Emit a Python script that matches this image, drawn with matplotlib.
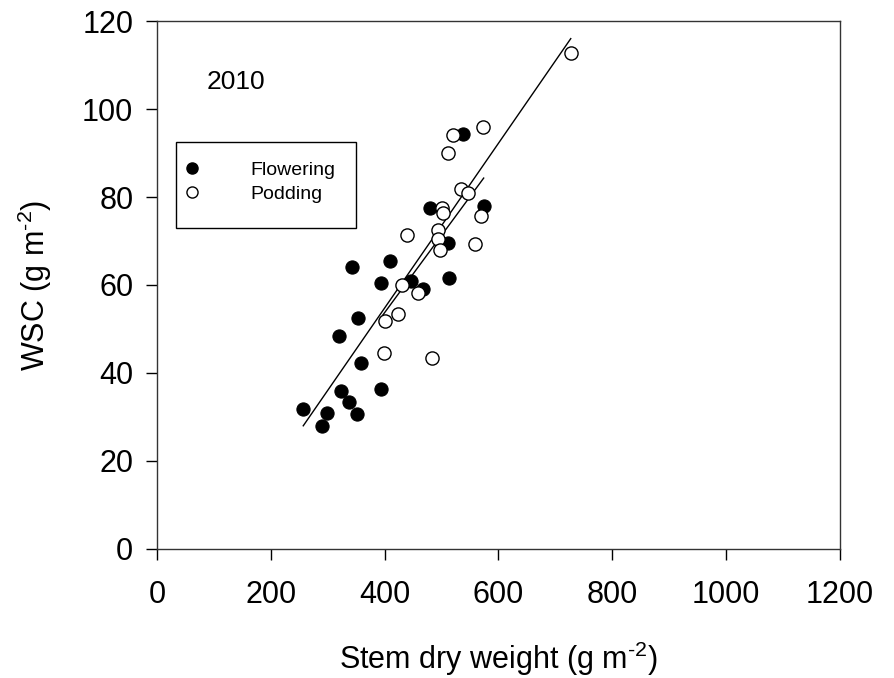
import matplotlib
matplotlib.use('Agg')
import matplotlib.pyplot as plt
from matplotlib.lines import Line2D
from matplotlib.patches import Rectangle

plt.rcParams['font.family'] = ['Liberation Sans', 'DejaVu Sans']
plt.rcParams['mathtext.default'] = 'regular'

# flowering (filled)
flower_x = [257, 290, 299, 324, 337, 352, 320, 353, 358, 343, 393, 394, 409, 446, 468, 480, 511, 513, 537, 574]
flower_y = [31.8, 28.0, 31.0, 36.0, 33.4, 30.7, 48.3, 52.6, 42.3, 64.0, 36.4, 60.4, 65.4, 60.8, 59.2, 77.5, 69.5, 61.6, 94.4, 77.9]

# podding (open)
pod_x = [727, 573, 520, 511, 535, 547, 500, 503, 569, 494, 493, 440, 559, 497, 431, 458, 424, 400, 399, 484]
pod_y = [112.7, 95.9, 94.1, 89.9, 81.8, 80.9, 77.5, 76.4, 75.7, 72.5, 70.5, 71.4, 69.4, 67.9, 60.0, 58.1, 53.5, 51.8, 44.6, 43.4]

# regression lines (end points)
fit_all_x = [257, 727]
fit_all_y = [28.0, 116.0]
fit_short_x = [397, 574]
fit_short_y = [53.2, 84.3]

fig = plt.figure(figsize=(8.95, 6.78), dpi=100)
ax = fig.add_axes([0.1754, 0.1903, 0.7631, 0.7787])

ax.plot(fit_all_x, fit_all_y, color='black', lw=1.0)
ax.plot(fit_short_x, fit_short_y, color='black', lw=1.0)
ax.scatter(flower_x, flower_y, s=90, c='black', edgecolors='black', linewidths=0.8, zorder=3)
ax.scatter(pod_x, pod_y, s=90, c='white', edgecolors='black', linewidths=1.0, zorder=4)

ax.set_xlim(0, 1200)
ax.set_ylim(0, 120)
ax.set_xticks(range(0, 1201, 200))
ax.set_yticks(range(0, 121, 20))
ax.tick_params(direction='out', length=8, width=1, labelsize=22)
ax.tick_params(axis='x', pad=14)
ax.tick_params(axis='y', pad=9)
for sp in ax.spines.values():
    sp.set_linewidth(1.0)
    sp.set_color('#333333')

sup = '$^{\u2010 2}$'
ax.set_xlabel('Stem dry weight (g m' + sup + ')', fontsize=22, labelpad=22)
ax.set_ylabel('WSC (g m' + sup + ')', fontsize=22, labelpad=20)

ax.text(0.073, 0.884, '2010', transform=ax.transAxes, fontsize=19, va='center')

# legend box
box = Rectangle((0.028, 0.608), 0.263, 0.163, transform=ax.transAxes, fill=True,
                facecolor='white', edgecolor='black', lw=1.0, zorder=5)
ax.add_patch(box)
handles = [
    Line2D([], [], marker='o', ls='', markersize=8, markerfacecolor='black', markeredgecolor='black', label='Flowering'),
    Line2D([], [], marker='o', ls='', markersize=8, markerfacecolor='white', markeredgecolor='black', label='Podding'),
]
leg = ax.legend(handles=handles, loc='center left', bbox_to_anchor=(0.042, 0.695),
                borderaxespad=0, borderpad=0, fontsize=14, labelspacing=0.3,
                handlelength=0.6, handletextpad=2.75, frameon=False)
leg.set_zorder(6)

fig.savefig('out.png', dpi=100)
